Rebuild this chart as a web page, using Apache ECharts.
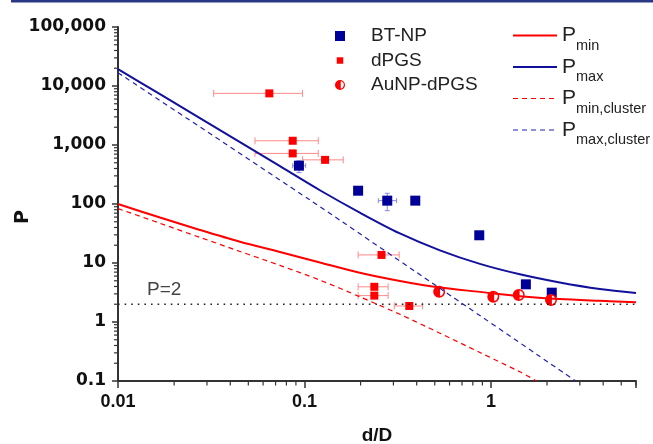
<!DOCTYPE html>
<html>
<head>
<meta charset="utf-8">
<script src="https://cdn.jsdelivr.net/npm/echarts@6/dist/echarts.min.js"></script>
<style>
html, body { margin: 0; padding: 0; background: #fff; }
#chart { width: 653px; height: 444px; }
</style>
</head>
<body>
<div id="chart"></div>
<script>
// tick labels (one per decade)
var xTickLabels = ['0.01', '0.1', '1'];           // 10^-2 .. 10^0
var yTickLabels = ['0.1', '1', '10', '100', '1,000', '10,000', '100,000']; // 10^-1 .. 10^5

// BT-NP
var btX = [0.0934, 0.194, 0.278, 0.393, 0.866, 1.54, 2.12];
var btY = [446, 168, 114, 114, 29.5, 4.35, 3.14];
var btXLo = [0.0865, 0.194, 0.249, 0.393, 0.866, 1.54, 2.12];
var btXHi = [0.1015, 0.194, 0.312, 0.393, 0.866, 1.54, 2.12];
var btYLo = [340, 168, 77, 114, 29.5, 4.35, 3.14];
var btYHi = [540, 168, 152, 114, 29.5, 4.35, 3.14];

// dPGS
var dpgsX = [0.0648, 0.0865, 0.0865, 0.129, 0.259, 0.237, 0.237, 0.365];
var dpgsY = [7500, 1180, 720, 560, 13.7, 3.95, 2.8, 1.87];
var dpgsXLo = [0.0326, 0.0543, 0.0543, 0.0977, 0.194, 0.194, 0.194, 0.303];
var dpgsXHi = [0.0977, 0.1186, 0.1186, 0.1615, 0.322, 0.281, 0.281, 0.43];

// AuNP-dPGS
var auX = [0.528, 1.03, 1.41, 2.10];
var auY = [3.26, 2.69, 2.87, 2.36];

// model curves
var curveX = [0.01, 0.0168, 0.0275, 0.0451, 0.0739, 0.121, 0.198, 0.325, 0.533, 0.873, 1.43, 2.34, 3.84, 6];
var pminY = [100, 59, 36.3, 22.9, 15.4, 10.2, 6.82, 4.95, 3.84, 3.24, 2.74, 2.45, 2.29, 2.17];
var pmaxY = [19400, 7260, 2845, 1115, 437, 171, 71.5, 31.7, 16.4, 9.66, 6.43, 4.67, 3.62, 3.1];
var pminClX = [0.01, 0.0168, 0.0275, 0.0451, 0.0739, 0.121, 0.198, 0.325, 0.533, 0.873, 1.43, 1.76];
var pminClY = [83.6, 47.1, 27.2, 15.7, 9.1, 5.13, 2.68, 1.35, 0.646, 0.304, 0.143, 0.1];
var pmaxClX = [0.01, 0.107, 0.567, 2.85];
var pmaxClY = [16800, 117, 3.26, 0.1];

var pLevel = 2;

// minor tick positions (2..9 of each decade)
var minorSteps = [2, 3, 4, 5, 6, 7, 8, 9];
var xDecades = [0.01, 0.1, 1];
var yDecades = [0.1, 1, 10, 100, 1000, 10000];

var RED = '#ff0000';
var BLUE = '#10109c';
var BLUE_DASH = '#2020b0';

function zip(a, b) {
    return a.map(function (v, i) { return [v, b[i]]; });
}

function decadeLabel(labels, firstExp) {
    return function (v) {
        var l = Math.log10(v);
        var e = Math.round(l);
        if (Math.abs(l - e) > 1e-6) return '';
        return labels[e - firstExp] || '';
    };
}

function errorBars(color, cap) {
    return function (params, api) {
        var y = api.value(1);
        var x = api.value(0);
        var xl = api.value(2), xh = api.value(3), yl = api.value(4), yh = api.value(5);
        var style = { stroke: color, lineWidth: 1 };
        var kids = [];
        if (xl !== xh) {
            var a = api.coord([xl, y]), b = api.coord([xh, y]);
            kids.push({ type: 'line', shape: { x1: a[0], y1: a[1], x2: b[0], y2: b[1] }, style: style });
            kids.push({ type: 'line', shape: { x1: a[0], y1: a[1] - cap, x2: a[0], y2: a[1] + cap }, style: style });
            kids.push({ type: 'line', shape: { x1: b[0], y1: b[1] - cap, x2: b[0], y2: b[1] + cap }, style: style });
        }
        if (yl !== yh) {
            var c = api.coord([x, yl]), d = api.coord([x, yh]);
            kids.push({ type: 'line', shape: { x1: c[0], y1: c[1], x2: d[0], y2: d[1] }, style: style });
            kids.push({ type: 'line', shape: { x1: c[0] - cap, y1: c[1], x2: c[0] + cap, y2: c[1] }, style: style });
            kids.push({ type: 'line', shape: { x1: d[0] - cap, y1: d[1], x2: d[0] + cap, y2: d[1] }, style: style });
        }
        return { type: 'group', children: kids };
    };
}

// legend icons
var auIcon = 'path://M0,-10A10,10,0,0,0,0,10A10,10,0,0,0,0,-10Z M1.5,-7.35A7.5,7.5,0,0,1,1.5,7.35Z';
var dpgsIcon = 'path://M0,0M20,20M3.5,3.5L16.5,3.5L16.5,16.5L3.5,16.5Z';
var solidIcon = 'path://M0,0M44,10M0,4L44,4L44,6L0,6Z';
var dashIcon = 'path://M0,0M44,10M0,4.4L5,4.4L5,5.6L0,5.6Z M9,4.4L14,4.4L14,5.6L9,5.6Z M18,4.4L23,4.4L23,5.6L18,5.6Z '
    + 'M27,4.4L32,4.4L32,5.6L27,5.6Z M36,4.4L41,4.4L41,5.6L36,5.6Z';

var baseGraphic = [
    { type: 'rect', shape: { x: 11, y: 0, width: 642, height: 2.5 }, style: { fill: '#2a3784' } },
    { type: 'text', x: 147, y: 290, style: { text: 'P=2', fontFamily: 'Liberation Sans', fontSize: 19, fill: '#444', verticalAlign: 'middle' } }
];

var chart = echarts.init(document.getElementById('chart'));

var option = {
    animation: false,
    backgroundColor: '#fff',
    grid: { left: 118, right: 17, top: 27, bottom: 63, outerBoundsMode: 'none' },
    xAxis: {
        type: 'log', logBase: 10, min: 0.01, max: 6,
        name: 'd/D', nameLocation: 'middle', nameGap: 45, nameMoveOverlap: false,
        nameTextStyle: { fontFamily: 'Liberation Sans', fontWeight: 'bold', fontSize: 19, color: '#111' },
        axisLine: { onZero: false, lineStyle: { color: '#333', width: 2 } },
        axisTick: { length: 7, lineStyle: { color: '#333', width: 1.5 } },
        axisLabel: {
            margin: 12, fontFamily: 'Liberation Sans', fontWeight: 'bold', fontSize: 18, color: '#111',
            formatter: decadeLabel(xTickLabels, -2)
        },
        splitLine: { show: false }
    },
    yAxis: {
        type: 'log', logBase: 10, min: 0.1, max: 100000,
        name: 'P', nameLocation: 'middle', nameGap: 85, nameMoveOverlap: false,
        nameTextStyle: { fontFamily: 'DejaVu Sans', fontWeight: 'bold', fontSize: 19, color: '#111', padding: [0, 26, 0, 0] },
        axisLine: { onZero: false, lineStyle: { color: '#333', width: 2 } },
        axisTick: { length: 6, lineStyle: { color: '#333', width: 1.5 } },
        axisLabel: {
            margin: 12, fontFamily: 'DejaVu Sans', fontWeight: 'bold', fontSize: 17, color: '#111',
            formatter: decadeLabel(yTickLabels, -1)
        },
        splitLine: { show: false }
    },
    legend: [{
        orient: 'vertical', left: 335, top: 26, padding: 0,
        itemWidth: 10, itemHeight: 10, itemGap: 4.5,
        data: [
            { name: 'BT-NP', icon: 'rect' },
            { name: 'dPGS', icon: dpgsIcon },
            { name: 'AuNP-dPGS', icon: auIcon }
        ],
        textStyle: { fontFamily: 'Liberation Sans', fontSize: 19, color: '#222', lineHeight: 20, padding: [0, 0, 0, 21] }
    }, {
        orient: 'vertical', left: 513, top: 25, padding: 0,
        itemWidth: 44, itemHeight: 10, itemGap: 3.5,
        data: [
            { name: 'Pmin', icon: solidIcon },
            { name: 'Pmax', icon: solidIcon },
            { name: 'Pmin,cluster', icon: dashIcon },
            { name: 'Pmax,cluster', icon: dashIcon }
        ],
        formatter: function (name) { return '{p|P}{s|' + name.slice(1) + '}'; },
        textStyle: {
            color: '#222',
            rich: {
                p: { fontFamily: 'Liberation Sans', fontSize: 21, color: '#222' },
                s: { fontFamily: 'Liberation Sans', fontSize: 14.5, color: '#222', padding: [20, 0, 0, 0] }
            }
        }
    }],
    graphic: baseGraphic,
    series: [
        {
            name: 'P=2 line', type: 'line', symbol: 'none', silent: true,
            data: [[0.01, pLevel], [6, pLevel]],
            lineStyle: { color: '#222', width: 1.6, type: [1.6, 5] }
        },
        {
            name: 'Pmin', type: 'line', symbol: 'none', smooth: 0.3, data: zip(curveX, pminY),
            itemStyle: { color: RED }, lineStyle: { color: RED, width: 2 }
        },
        {
            name: 'Pmax', type: 'line', symbol: 'none', smooth: 0.3, data: zip(curveX, pmaxY),
            itemStyle: { color: BLUE }, lineStyle: { color: BLUE, width: 2 }
        },
        {
            name: 'Pmin,cluster', type: 'line', symbol: 'none', smooth: 0.3, data: zip(pminClX, pminClY),
            itemStyle: { color: RED }, lineStyle: { color: RED, width: 1.2, type: [5, 4] }
        },
        {
            name: 'Pmax,cluster', type: 'line', symbol: 'none', smooth: 0.2, data: zip(pmaxClX, pmaxClY),
            itemStyle: { color: BLUE_DASH }, lineStyle: { color: BLUE_DASH, width: 1.2, type: [5, 4] }
        },
        {
            name: 'dPGS err', type: 'custom', renderItem: errorBars('#ff8a8a', 3.5),
            data: dpgsX.map(function (x, i) { return [x, dpgsY[i], dpgsXLo[i], dpgsXHi[i], dpgsY[i], dpgsY[i]]; })
        },
        {
            name: 'BT-NP err', type: 'custom', renderItem: errorBars('#8a8ad8', 2.5),
            data: btX.map(function (x, i) { return [x, btY[i], btXLo[i], btXHi[i], btYLo[i], btYHi[i]]; })
        },
        {
            name: 'BT-NP', type: 'scatter', symbol: 'rect', symbolSize: 10,
            itemStyle: { color: '#000099', opacity: 1 }, data: zip(btX, btY)
        },
        {
            name: 'dPGS', type: 'scatter', symbol: 'rect', symbolSize: 8,
            itemStyle: { color: RED, opacity: 1 }, data: zip(dpgsX, dpgsY)
        },
        {
            name: 'AuNP bg', type: 'scatter', symbol: 'circle', symbolSize: 11, silent: true,
            itemStyle: { color: '#fff', opacity: 1 }, data: zip(auX, auY)
        },
        {
            name: 'AuNP-dPGS', type: 'scatter', symbol: auIcon, symbolSize: 12,
            itemStyle: { color: RED, opacity: 1 }, data: zip(auX, auY)
        }
    ]
};

chart.setOption(option);

// minor ticks placed through the chart's own log scales (z high, or the axis hides them)
var ticks = [];
xDecades.forEach(function (d) {
    minorSteps.forEach(function (k) {
        if (d * k > 6) return;
        var p = chart.convertToPixel({ gridIndex: 0 }, [d * k, 0.1]);
        ticks.push({ type: 'line', z: 100, shape: { x1: p[0], y1: p[1], x2: p[0], y2: p[1] + 4.5 }, style: { stroke: '#333', lineWidth: 1.2 } });
    });
});
yDecades.forEach(function (d) {
    minorSteps.forEach(function (k) {
        var p = chart.convertToPixel({ gridIndex: 0 }, [0.01, d * k]);
        ticks.push({ type: 'line', z: 100, shape: { x1: p[0] - 4, y1: p[1], x2: p[0], y2: p[1] }, style: { stroke: '#333', lineWidth: 1.2 } });
    });
});
chart.setOption({ graphic: baseGraphic.concat(ticks) });
</script>
</body>
</html>
